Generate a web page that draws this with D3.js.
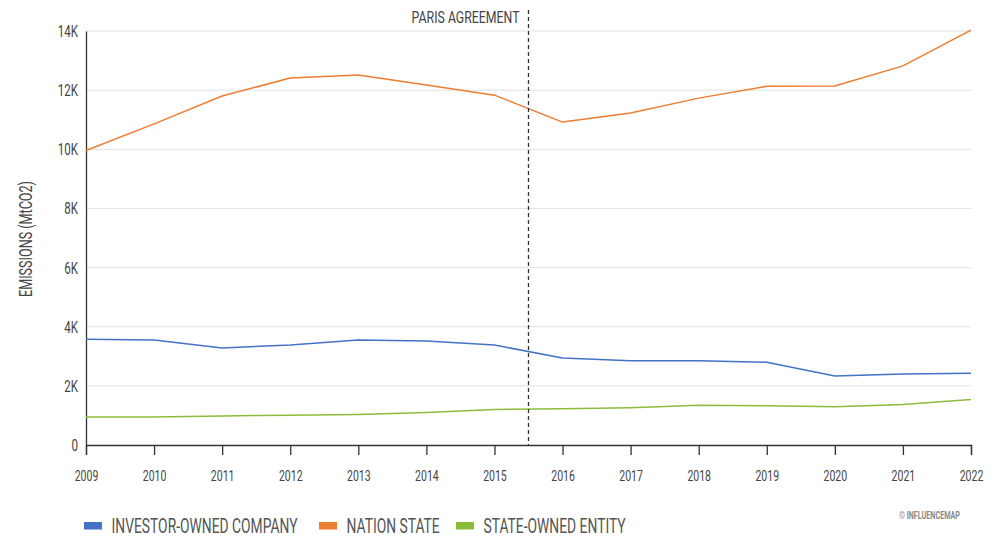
<!DOCTYPE html>
<html>
<head>
<meta charset="utf-8">
<script src="https://cdn.jsdelivr.net/npm/d3@7"></script>
<style>
  body { margin: 0; background: #fff; }
  svg text { font-family: Roboto, "Liberation Sans", sans-serif; }
</style>
</head>
<body>
<div id="chart"></div>
<script>
"use strict";

// data (MtCO2)
var years = [2009, 2010, 2011, 2012, 2013, 2014, 2015, 2016, 2017, 2018, 2019, 2020, 2021, 2022];
var investorOwned = [3580, 3550, 3280, 3380, 3550, 3520, 3380, 2940, 2850, 2850, 2800, 2330, 2400, 2430];
var nationState = [9960, 10860, 11800, 12410, 12510, 12170, 11830, 10920, 11230, 11730, 12130, 12140, 12820, 14030];
var stateOwned = [950, 950, 980, 1010, 1030, 1100, 1200, 1230, 1260, 1340, 1330, 1290, 1370, 1540];
var seriesNames = ["INVESTOR-OWNED COMPANY", "NATION STATE", "STATE-OWNED ENTITY"];
var seriesColors = ["#4472c4", "#ed7d31", "#8cbd3a"];
var yTicks = [0, 2000, 4000, 6000, 8000, 10000, 12000, 14000];
var parisYear = 2015.5;

var width = 1004,
    height = 538,
    margin = {top: 31, right: 33, bottom: 93, left: 86};

var series = [investorOwned, nationState, stateOwned];

// squeeze text horizontally to mimic the condensed face of the original
function condense(sel, k) {
  sel.each(function() {
    var w = this.getComputedTextLength();
    d3.select(this).attr("textLength", w * k).attr("lengthAdjust", "spacingAndGlyphs");
  });
}

// same idea but with a transform, for free standing labels
function squeeze(sel, k) {
  sel.each(function() {
    var t = d3.select(this),
        x0 = +t.attr("x") || 0,
        y0 = +t.attr("y") || 0;
    t.attr("x", 0).attr("y", 0)
      .attr("transform", "translate(" + x0 + "," + y0 + ") scale(" + k + ",1)");
  });
}

var x = d3.scaleLinear()
    .domain([years[0], years[years.length - 1]])
    .range([margin.left, width - margin.right]);

var y = d3.scaleLinear()
    .domain([0, 14000])
    .range([height - margin.bottom, margin.top]);

var svg = d3.select("#chart").append("svg")
    .attr("width", width)
    .attr("height", height);

// gridlines
svg.append("g")
  .selectAll("line")
    .data(yTicks.slice(1))
  .enter().append("line")
    .attr("x1", x.range()[0])
    .attr("x2", x.range()[1])
    .attr("y1", function(d) { return y(d); })
    .attr("y2", function(d) { return y(d); })
    .style("stroke", "#e0e0e0")
    .style("stroke-width", 1);

// y axis
var yAxis = svg.append("g")
    .attr("transform", "translate(" + margin.left + ",0)")
    .call(d3.axisLeft(y).tickValues(yTicks).tickSize(0).tickPadding(8)
      .tickFormat(function(d) { return d === 0 ? "0" : (d / 1000) + "K"; }));
yAxis.select(".domain").style("stroke", "#333").style("stroke-width", 1.3);
yAxis.selectAll("text")
    .attr("font-family", null)
    .attr("font-size", null)
    .style("font-size", "17px")
    .style("fill", "#444")
    .call(condense, 0.68);

// x axis
var xAxis = svg.append("g")
    .attr("transform", "translate(0," + y(0) + ")")
    .call(d3.axisBottom(x).tickValues(years).tickSize(10).tickPadding(15).tickFormat(d3.format("d")));
xAxis.select(".domain").style("stroke", "#333").style("stroke-width", 1.3);
xAxis.selectAll("line").style("stroke", "#333").style("stroke-width", 1.3);
xAxis.selectAll("text")
    .attr("font-family", null)
    .attr("font-size", null)
    .style("font-size", "15px")
    .style("fill", "#444")
    .call(condense, 0.7);

// y label
svg.append("text")
    .attr("transform", "translate(26,239) rotate(-90)")
    .attr("text-anchor", "middle")
    .attr("dy", "0.35em")
    .style("font-size", "18px")
    .style("fill", "#444")
    .text("EMISSIONS (MtCO2)")
    .call(condense, 0.7);

// lines
var line = d3.line()
    .x(function(d, i) { return x(years[i]); })
    .y(function(d) { return y(d); });

svg.append("g")
  .selectAll("path")
    .data(series)
  .enter().append("path")
    .attr("d", line)
    .style("fill", "none")
    .style("stroke", function(d, i) { return seriesColors[i]; })
    .style("stroke-width", 1.5)
    .style("stroke-linejoin", "round");

// paris agreement marker
svg.append("line")
    .attr("x1", x(parisYear))
    .attr("x2", x(parisYear))
    .attr("y1", 10)
    .attr("y2", y(0))
    .style("stroke", "#333")
    .style("stroke-width", 1.3)
    .style("stroke-dasharray", "4,3");

svg.append("text")
    .attr("x", x(parisYear) - 9)
    .attr("y", 23)
    .attr("text-anchor", "end")
    .style("font-size", "16px")
    .style("fill", "#444")
    .text("PARIS AGREEMENT")
    .call(squeeze, 0.77);

// legend
var legendX = [84, 319, 456];
var legend = svg.append("g")
  .selectAll("g")
    .data(seriesNames)
  .enter().append("g")
    .attr("transform", function(d, i) { return "translate(" + legendX[i] + ",526)"; });

legend.append("rect")
    .attr("x", 0)
    .attr("y", -4)
    .attr("width", 18)
    .attr("height", 7.5)
    .style("fill", function(d, i) { return seriesColors[i]; });

legend.append("text")
    .attr("x", 27.5)
    .attr("y", 7)
    .style("font-size", "19.5px")
    .style("fill", "#555")
    .text(function(d) { return d; })
    .call(squeeze, 0.71);

// credit
svg.append("text")
    .attr("x", 960)
    .attr("y", 519)
    .attr("text-anchor", "end")
    .style("font-size", "10px")
    .style("font-weight", "bold")
    .style("fill", "#888")
    .text("© INFLUENCEMAP")
    .call(squeeze, 0.72);
</script>
</body>
</html>
